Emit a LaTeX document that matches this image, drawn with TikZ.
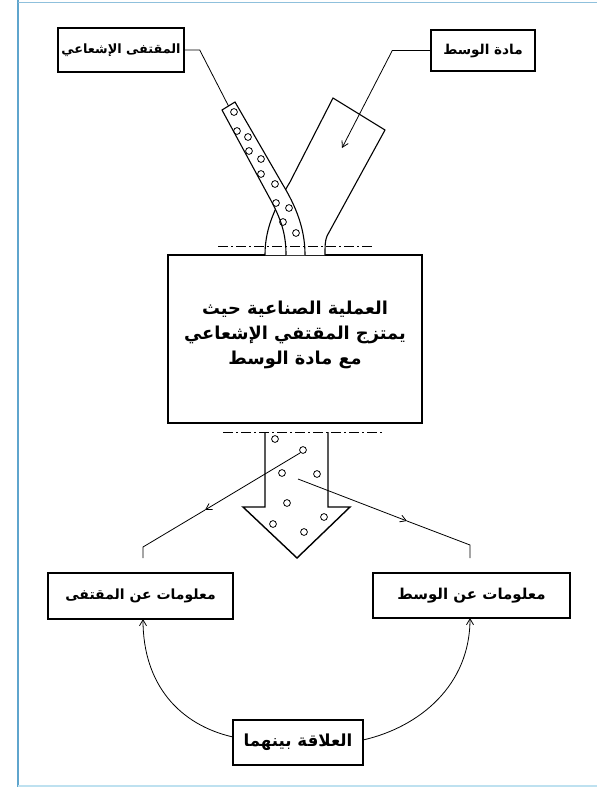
\documentclass[tikz,border=0pt]{standalone}
\usepackage{fontspec}
\newfontfamily\arabicfont[Script=Arabic]{DejaVu Sans}
\TeXXeTstate=1
\usetikzlibrary{arrows.meta}
\definecolor{framecol}{RGB}{95,165,205}
\definecolor{framelight}{RGB}{190,225,240}
\newcommand{\fsz}[1]{\fontsize{#1}{#1}\selectfont}
\tikzset{
  labelbox/.style={draw, line width=1.4pt, inner sep=0pt, font=\arabicfont\bfseries},
  thinline/.style={line width=0.8pt},
  barb/.style={thinline, -{Straight Barb[length=6pt,width=7pt]}},
  dashdot/.style={line width=0.9pt, dash pattern=on 10pt off 3pt on 2pt off 3pt},
  tube/.style={line width=1.1pt},
  bubble/.style={line width=0.8pt}
}
\begin{document}
\begin{tikzpicture}[x=1pt,y=-1pt]
\useasboundingbox (0,0) rectangle (597,787);
\fill[white] (0,0) rectangle (597,787);
% frame
\draw[framecol, line width=1.6pt] (18,0) -- (18,787);
\draw[framecol!70, line width=0.9pt] (18,2) -- (597,2);
\draw[framelight, line width=1.4pt] (18,786) -- (597,786);

% label boxes
\node[labelbox, minimum width=126pt, minimum height=44pt] (tracer) at (121,50) {\fsz{12.8}\beginR المقتفى الإشعاعي\endR};
\node[labelbox, minimum width=104pt, minimum height=41pt] (medium) at (483,50.5) {\fsz{13.6}\beginR مادة الوسط\endR};
\node[labelbox, minimum width=254pt, minimum height=168pt, align=center, text depth=13pt,
      font=\arabicfont\bfseries\fontsize{17.8}{25}\selectfont] (process) at (295,339)
  {\beginR العملية الصناعية حيث\endR\\\beginR يمتزج المقتفي الإشعاعي\endR\\\beginR مع مادة الوسط\endR};
\node[labelbox, minimum width=185pt, minimum height=46pt] (linfo) at (140.5,596) {\fsz{14}\beginR معلومات عن المقتفى\endR};
\node[labelbox, minimum width=197pt, minimum height=45pt] (rinfo) at (471.5,595.5) {\fsz{15}\beginR معلومات عن الوسط\endR};
\node[labelbox, minimum width=130pt, minimum height=45pt] (rel) at (298,742.5) {\fsz{16.6}\beginR العلاقة بينهما\endR};

% medium tube (behind)
\draw[tube, fill=white] (265,255) .. controls (265,232) and (272,212) .. (290,182) -- (333,98) -- (385,130) -- (327,236) .. controls (325,241) and (325,246) .. (325,255);
% tracer tube (front)
\draw[tube, fill=white] (286,255) .. controls (286,235) and (282,220) .. (268,195) -- (222,110) -- (235,102) -- (283,185) .. controls (300,213) and (305,235) .. (305,255);
\foreach \p in {(234,112),(237,131),(248,137),(249,151),(261,159),(261,174),(275,184),(276,203),(289,208),(283,222),(296,233)}
  \draw[bubble] \p circle[radius=3.4];

% connectors at top
\coordinate (tubetop) at (228.5,106);
\coordinate (medtip) at (342,148);
\draw[thinline] (tracer.east) -- ++(15,0) -- (tubetop);
\draw[barb] (medium.west) -- ++(-38,0) -- (medtip);

% dash-dot lines
\coordinate (dd1a) at (218,246); \coordinate (dd1b) at (373,246);
\coordinate (dd2a) at (223,432); \coordinate (dd2b) at (382,432);
\draw[dashdot] (dd1a) -- (dd1b);
\draw[dashdot] (dd2a) -- (dd2b);

% block arrow
\draw[line width=1.4pt, line join=miter] (265,432) -- (265,507) -- (243,507) -- (297,558) -- (350,507) -- (328,507) -- (328,432);
\foreach \p in {(275,439),(303,450),(282,473),(317,474),(287,503),(324,517),(273,524),(304,532)}
  \draw[bubble] \p circle[radius=3.4];

% outputs
\coordinate (la0) at (300,453);
\coordinate (la1) at (205,510);
\coordinate (la2) at (143,547);
\coordinate (la3) at (143,558);
\draw[barb] (la0) -- (la1);
\draw[thinline] (la1) -- (la2) -- (la3);
\coordinate (ra0) at (298,479);
\coordinate (ra1) at (407,521);
\coordinate (ra2) at (470,545);
\coordinate (ra3) at (470,558);
\draw[barb] (ra0) -- (ra1);
\draw[thinline] (ra1) -- (ra2) -- (ra3);

% relation curves
\coordinate (relL) at (233,737);
\coordinate (relR) at (363,740);
\coordinate (linfoB) at (143,619);
\coordinate (rinfoB) at (470,618);
\draw[barb] (relL) .. controls (180,725) and (143,685) .. (linfoB);
\draw[barb] (relR) .. controls (420,727) and (470,685) .. (rinfoB);
\end{tikzpicture}
\end{document}
